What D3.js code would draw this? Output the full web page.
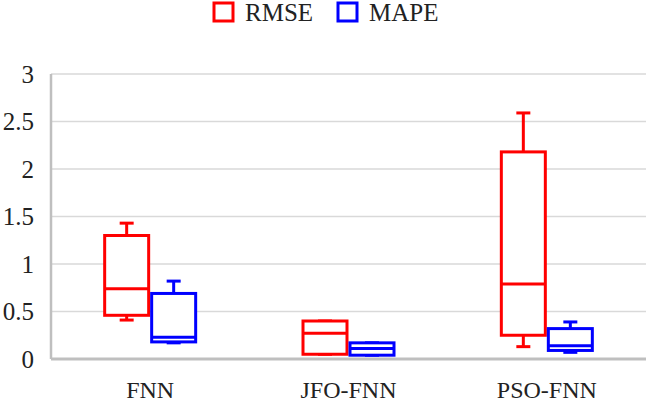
<!DOCTYPE html>
<html>
<head>
<meta charset="utf-8">
<script src="https://cdn.jsdelivr.net/npm/d3@7"></script>
<style>
  body { margin: 0; background: #fff; }
  svg { display: block; }
  svg text { font-family: "Liberation Serif", "Times New Roman", serif; }
</style>
</head>
<body>
<div id="chart"></div>
<script>
const categories = ["FNN", "JFO-FNN", "PSO-FNN"];
const series = ["RMSE", "MAPE"];
const seriesColors = ["#ff0000", "#0000ff"];

// box statistics, per category
const rmseMin    = [0.41, 0.05, 0.13];
const rmseQ1     = [0.46, 0.05, 0.25];
const rmseMedian = [0.74, 0.27, 0.79];
const rmseQ3     = [1.30, 0.40, 2.18];
const rmseMax    = [1.43, 0.40, 2.59];

const mapeMin    = [0.17, 0.04, 0.07];
const mapeQ1     = [0.18, 0.04, 0.09];
const mapeMedian = [0.23, 0.11, 0.14];
const mapeQ3     = [0.69, 0.17, 0.32];
const mapeMax    = [0.82, 0.17, 0.39];

const yTicks = [0, 0.5, 1, 1.5, 2, 2.5, 3];

const width = 649, height = 404;
const margin = {top: 74, right: 3, bottom: 45, left: 51};
const innerW = width - margin.left - margin.right;
const innerH = height - margin.top - margin.bottom;

const stats = {
  RMSE: categories.map((c, i) => ({cat: c, min: rmseMin[i], q1: rmseQ1[i], med: rmseMedian[i], q3: rmseQ3[i], max: rmseMax[i]})),
  MAPE: categories.map((c, i) => ({cat: c, min: mapeMin[i], q1: mapeQ1[i], med: mapeMedian[i], q3: mapeQ3[i], max: mapeMax[i]}))
};

const svg = d3.select("#chart").append("svg")
  .attr("width", width)
  .attr("height", height);

const g = svg.append("g")
  .attr("transform", "translate(" + margin.left + "," + margin.top + ")");

const x = d3.scaleBand().domain(categories).range([0, innerW]);
const xs = d3.scaleBand().domain(series).range([-47, 47]);
const y = d3.scaleLinear().domain([0, 3]).range([innerH, 0]);

// gridlines
g.append("g")
  .selectAll("line")
  .data(yTicks.filter(t => t > 0))
  .enter().append("line")
  .attr("x1", 0).attr("x2", innerW)
  .attr("y1", d => y(d)).attr("y2", d => y(d))
  .attr("stroke", "#d9d9d9")
  .attr("stroke-width", 1.5);

// left axis line (gray) and tick labels
g.append("line")
  .attr("x1", 0).attr("x2", 0)
  .attr("y1", y(3)).attr("y2", y(0))
  .attr("stroke", "#bfbfbf")
  .attr("stroke-width", 2.5);

const yAxis = g.append("g")
  .call(d3.axisLeft(y).tickValues(yTicks).tickFormat(d3.format("")).tickSize(0).tickPadding(17))
  .attr("font-family", "Liberation Serif")
  .attr("font-size", 25);
yAxis.select(".domain").remove();
yAxis.selectAll("text").attr("fill", "#222");

// bottom axis
g.append("line")
  .attr("x1", 0).attr("x2", innerW)
  .attr("y1", y(0)).attr("y2", y(0))
  .attr("stroke", "#bfbfbf")
  .attr("stroke-width", 3);

const xAxis = g.append("g")
  .attr("transform", "translate(0," + innerH + ")")
  .call(d3.axisBottom(x).tickSize(0).tickPadding(22))
  .attr("font-family", "Liberation Serif")
  .attr("font-size", 24);
xAxis.select(".domain").remove();
xAxis.selectAll("text").attr("fill", "#222");

// boxes
const sw = 3;
series.forEach((s, si) => {
  const col = seriesColors[si];
  const grp = g.append("g").attr("class", "box_" + s);
  const bx = d => x(d.cat) + x.bandwidth() / 2 + xs(s);
  const bw = xs.bandwidth();
  const mid = d => bx(d) + bw / 2;

  // whiskers
  grp.selectAll(".wup").data(stats[s]).enter().append("line")
    .attr("x1", mid).attr("x2", mid)
    .attr("y1", d => y(d.q3)).attr("y2", d => y(d.max))
    .attr("stroke", col).attr("stroke-width", sw);
  grp.selectAll(".wdn").data(stats[s]).enter().append("line")
    .attr("x1", mid).attr("x2", mid)
    .attr("y1", d => y(d.q1)).attr("y2", d => y(d.min))
    .attr("stroke", col).attr("stroke-width", sw);
  // caps
  grp.selectAll(".capup").data(stats[s]).enter().append("line")
    .attr("x1", d => mid(d) - 7).attr("x2", d => mid(d) + 7)
    .attr("y1", d => y(d.max)).attr("y2", d => y(d.max))
    .attr("stroke", col).attr("stroke-width", sw);
  grp.selectAll(".capdn").data(stats[s]).enter().append("line")
    .attr("x1", d => mid(d) - 7).attr("x2", d => mid(d) + 7)
    .attr("y1", d => y(d.min)).attr("y2", d => y(d.min))
    .attr("stroke", col).attr("stroke-width", sw);

  // box
  grp.selectAll("rect").data(stats[s]).enter().append("rect")
    .attr("x", d => bx(d) + sw / 2)
    .attr("width", bw - sw)
    .attr("y", d => y(d.q3))
    .attr("height", d => y(d.q1) - y(d.q3))
    .attr("fill", "#fff")
    .attr("stroke", col)
    .attr("stroke-width", sw);

  // median
  grp.selectAll(".med").data(stats[s]).enter().append("line")
    .attr("x1", d => bx(d) + sw / 2).attr("x2", d => bx(d) + bw - sw / 2)
    .attr("y1", d => y(d.med)).attr("y2", d => y(d.med))
    .attr("stroke", col).attr("stroke-width", sw);
});

// legend
const legendX = [214, 338];
const legend = svg.append("g");
series.forEach((s, i) => {
  legend.append("rect")
    .attr("x", legendX[i]).attr("y", 3)
    .attr("width", 19).attr("height", 18)
    .attr("fill", "#fff")
    .attr("stroke", seriesColors[i])
    .attr("stroke-width", 3);
  legend.append("text")
    .attr("x", legendX[i] + 31).attr("y", 21)
    .attr("font-size", 25)
    .attr("fill", "#222")
    .text(s);
});
</script>
</body>
</html>
